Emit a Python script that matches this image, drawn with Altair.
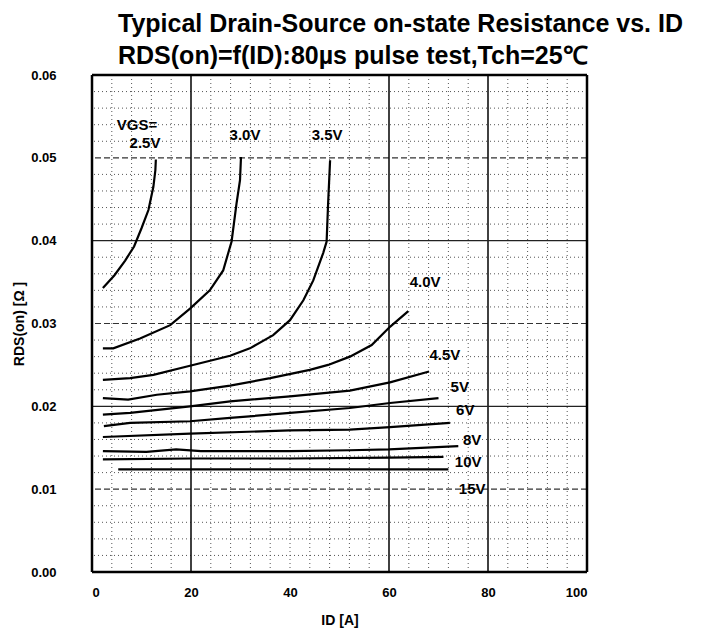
import altair as alt
import pandas as pd

# ---- data ----
vgs_levels = ["2.5V", "3.0V", "3.5V", "4.0V", "4.5V", "5V", "6V", "8V", "10V", "15V"]

id_25 = [2.2, 4.5, 6.7, 8.5, 10.0, 11.4, 12.4, 12.8, 12.9]
r_25 = [0.0343, 0.0358, 0.0376, 0.0393, 0.0415, 0.0437, 0.0465, 0.0485, 0.0498]

id_30 = [2.2, 4.3, 9.7, 15.8, 19.8, 23.8, 26.5, 28.2, 29.2, 29.9, 30.1]
r_30 = [0.0270, 0.0270, 0.0282, 0.0298, 0.0318, 0.0340, 0.0364, 0.0399, 0.0445, 0.0473, 0.0501]

id_35 = [2.2, 7.7, 12.4, 19.8, 27.9, 31.9, 36.6, 40.0, 42.7, 44.7, 46.7, 47.4, 47.7, 48.1]
r_35 = [0.0232, 0.0234, 0.0238, 0.0249, 0.0261, 0.0270, 0.0286, 0.0304, 0.0328, 0.0352, 0.0385, 0.0399, 0.0445, 0.0497]

id_40 = [2.2, 7.3, 13.1, 19.8, 27.9, 36.0, 44.0, 47.7, 52.1, 56.5, 60.2, 63.9]
r_40 = [0.0210, 0.0208, 0.0214, 0.0218, 0.0225, 0.0234, 0.0244, 0.0250, 0.0260, 0.0274, 0.0296, 0.0315]

id_45 = [2.2, 7.7, 19.8, 27.9, 40.0, 52.1, 60.2, 68.1]
r_45 = [0.0190, 0.0192, 0.0200, 0.0206, 0.0212, 0.0219, 0.0229, 0.0242]

id_5 = [2.4, 7.7, 19.8, 27.9, 40.0, 52.1, 60.2, 70.0]
r_5 = [0.0176, 0.0180, 0.0182, 0.0186, 0.0192, 0.0198, 0.0204, 0.0210]

id_6 = [2.2, 19.8, 40.0, 52.1, 60.2, 72.3]
r_6 = [0.0163, 0.0167, 0.0171, 0.0172, 0.0175, 0.0180]

id_8 = [2.2, 11.0, 17.0, 22.0, 40.0, 52.0, 60.0, 74.0]
r_8 = [0.0146, 0.0145, 0.0148, 0.0146, 0.0146, 0.0147, 0.0148, 0.0152]

id_10 = [2.2, 20.0, 40.0, 60.0, 71.0]
r_10 = [0.0136, 0.0137, 0.0137, 0.0138, 0.0139]

id_15 = [5.3, 20.0, 40.0, 52.0, 72.0]
r_15 = [0.0124, 0.0124, 0.0124, 0.0124, 0.0124]

curve_ids = [id_25, id_30, id_35, id_40, id_45, id_5, id_6, id_8, id_10, id_15]
curve_rs = [r_25, r_30, r_35, r_40, r_45, r_5, r_6, r_8, r_10, r_15]

label_text = ["VGS=", "2.5V", "3.0V", "3.5V", "4.0V", "4.5V", "5V", "6V", "8V", "10V", "15V"]
label_x = [9.1, 10.7, 30.9, 47.5, 67.3, 71.3, 74.3, 75.4, 76.8, 76.0, 76.8]
label_y = [0.0540, 0.0518, 0.0528, 0.0528, 0.0350, 0.0262, 0.0223, 0.0196, 0.0159, 0.0133, 0.0100]

x_ticks = [0, 20, 40, 60, 80, 100]
y_ticks = [0.00, 0.01, 0.02, 0.03, 0.04, 0.05, 0.06]
x_minor = [v for v in range(4, 100, 4) if v not in (20, 60, 80)]
y_minor = [round(0.002 * k, 3) for k in range(1, 30) if k % 5 != 0]
x_major = [20, 60, 80]
y_major_solid = [0.02, 0.04]
y_major_dash = [0.01, 0.03, 0.05]
x_frame = [0, 100]
y_frame = [0.0, 0.06]

# ---- tables ----
rows = []
for name, xs_, ys_ in zip(vgs_levels, curve_ids, curve_rs):
    for i, (a, b) in enumerate(zip(xs_, ys_)):
        rows.append({"vgs": name, "i": i, "id": a, "r": b})
curves = pd.DataFrame(rows)
labels = pd.DataFrame({"t": label_text, "id": label_x, "r": label_y})

FONT = "Liberation Sans"
xs = alt.Scale(domain=[0, 100], nice=False)
ys = alt.Scale(domain=[0, 0.06], nice=False)

x_axis = alt.Axis(values=x_ticks, format="d", grid=False, ticks=False, domain=False,
                  labelPadding=14, titlePadding=14)
y_axis = alt.Axis(values=y_ticks, format=".2f", grid=False, ticks=False, domain=False,
                  labelPadding=36, titlePadding=4)


def X():
    return alt.X("id:Q", scale=xs, title="ID [A]", axis=x_axis)


def Y():
    return alt.Y("r:Q", scale=ys, title="RDS(on) [Ω ]", axis=y_axis)


lines = alt.Chart(curves).mark_line(color="black", strokeWidth=2.2).encode(
    x=X(), y=Y(), detail="vgs:N", order="i:Q",
)

vminor = alt.Chart(pd.DataFrame({"id": x_minor})).mark_rule(
    color="#555", strokeWidth=1, strokeDash=[1, 3]
).encode(x=X())
hminor = alt.Chart(pd.DataFrame({"r": y_minor})).mark_rule(
    color="#555", strokeWidth=1, strokeDash=[1, 3]
).encode(y=Y())
hdash = alt.Chart(pd.DataFrame({"r": y_major_dash})).mark_rule(
    color="#333", strokeWidth=1.2, strokeDash=[6, 3]
).encode(y=Y())
vmajor = alt.Chart(pd.DataFrame({"id": x_major})).mark_rule(
    color="#111", strokeWidth=1.6
).encode(x=X())
hmajor = alt.Chart(pd.DataFrame({"r": y_major_solid})).mark_rule(
    color="#222", strokeWidth=1.2
).encode(y=Y())
vframe = alt.Chart(pd.DataFrame({"id": x_frame})).mark_rule(
    color="black", strokeWidth=2.5
).encode(x=X())
hframe = alt.Chart(pd.DataFrame({"r": y_frame})).mark_rule(
    color="black", strokeWidth=2.5
).encode(y=Y())

texts = alt.Chart(labels).mark_text(
    font=FONT, fontSize=15, fontWeight="bold", color="black", align="center",
    baseline="middle"
).encode(x=X(), y=Y(), text="t:N")

chart = alt.layer(vminor, hminor, hdash, vmajor, hmajor, vframe, hframe, lines, texts).properties(
    width=495,
    height=497,
    background="white",
    autosize=alt.AutoSizeParams(type="none"),
    padding={"left": 92, "top": 75, "right": 116, "bottom": 60},
    title=alt.TitleParams(
        text=["Typical Drain-Source on-state Resistance vs. ID",
              "RDS(on)=f(ID):80µs pulse test,Tch=25℃"],
        anchor="start", frame="group", dx=26, font=FONT, fontSize=25, fontWeight="bold",
        color="black", lineHeight=32, offset=0,
    ),
).configure_view(
    stroke=None
).configure_axis(
    labelFont=FONT, labelFontSize=13, labelFontWeight="bold", labelColor="black",
    titleFont=FONT, titleFontSize=14, titleFontWeight="bold", titleColor="black",
)

chart.save("out.html", embed_options={"renderer": "svg", "actions": False})
